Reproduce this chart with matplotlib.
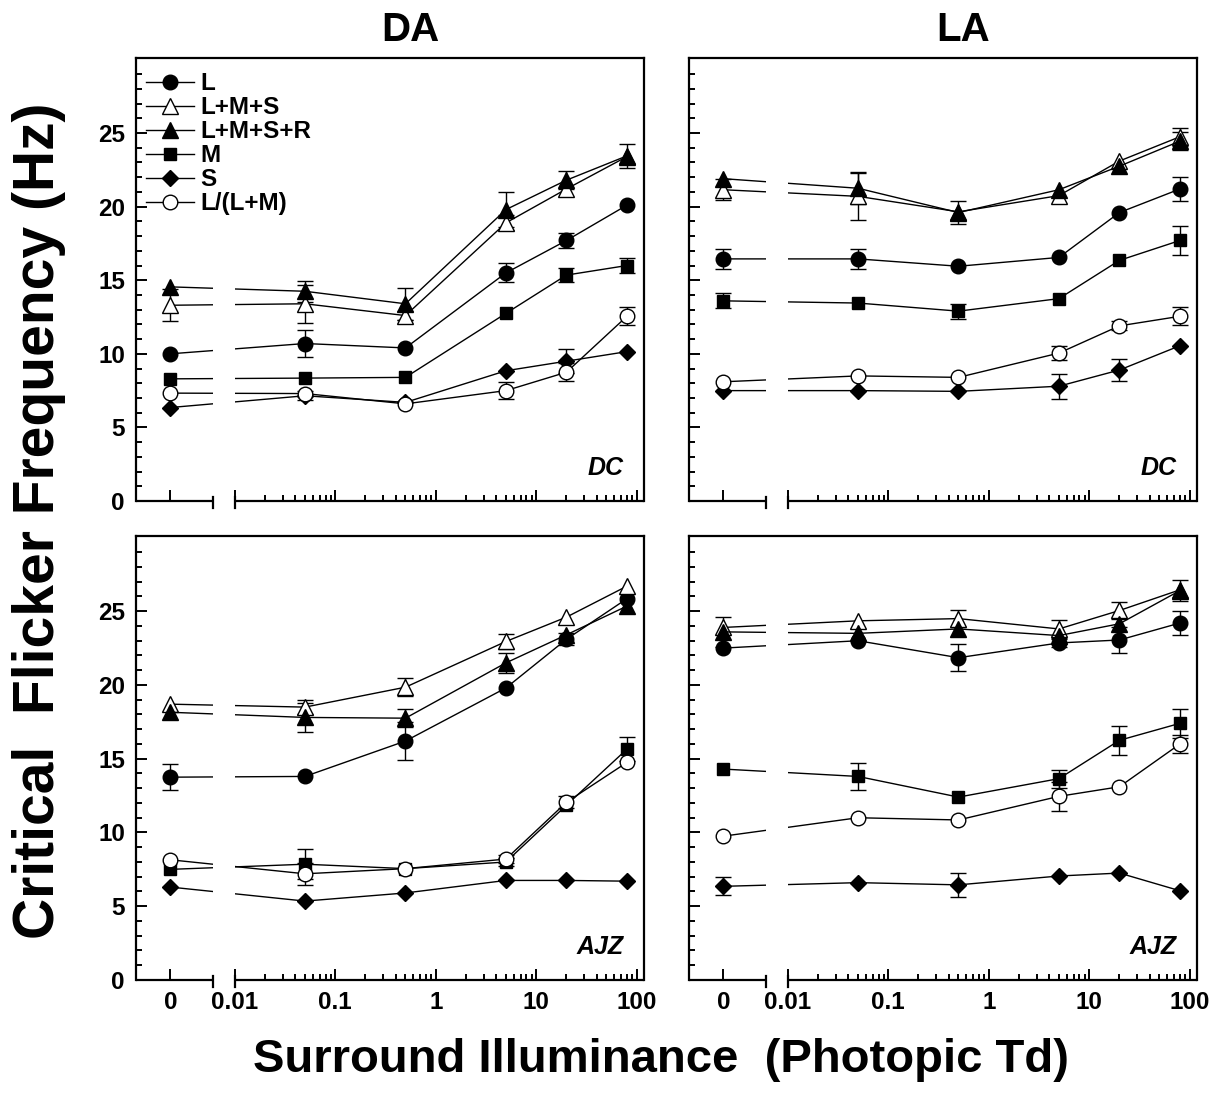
import numpy as np
import matplotlib
matplotlib.use("Agg")
import matplotlib.pyplot as plt
from matplotlib.ticker import FixedLocator, FixedFormatter, NullFormatter

plt.rcParams["font.family"] = ["Liberation Sans", "DejaVu Sans"]
plt.rcParams["font.weight"] = "bold"

# surround illuminance (photopic Td); 0 is drawn on the broken part of the axis
x = [0, 0.05, 0.5, 5, 20, 80]
labels = ["L", "L+M+S", "L+M+S+R", "M", "S", "L/(L+M)"]

# DA, observer DC
da_dc_L = [10.0, 10.7, 10.4, 15.5, 17.7, 20.1]
da_dc_LMS = [13.3, 13.4, 12.6, 18.9, 21.2, 23.4]
da_dc_LMSR = [14.55, 14.25, 13.4, 19.8, 21.8, 23.45]
da_dc_M = [8.3, 8.35, 8.4, 12.75, 15.35, 16.0]
da_dc_S = [6.35, 7.15, 6.7, 8.85, 9.5, 10.15]
da_dc_LLM = [7.33, 7.3, 6.6, 7.5, 8.75, 12.55]
da_dc_err = [
    [0, 0.9, 0, 0.65, 0.5, 0],
    [1.1, 1.3, 0.3, 0.5, 0, 0],
    [0, 0.7, 1.1, 1.2, 0.6, 0.8],
    [0, 0, 0, 0, 0.5, 0.5],
    [0, 0.3, 0, 0, 0.8, 0],
    [0, 0, 0, 0.6, 0.6, 0.6],
]

# LA, observer DC
la_dc_L = [16.45, 16.45, 15.95, 16.55, 19.6, 21.2]
la_dc_LMS = [21.15, 20.7, 19.65, 20.75, 23.1, 24.75]
la_dc_LMSR = [21.9, 21.25, 19.6, 21.15, 22.75, 24.45]
la_dc_M = [13.6, 13.45, 12.9, 13.75, 16.35, 17.7]
la_dc_S = [7.5, 7.5, 7.45, 7.8, 8.9, 10.55]
la_dc_LLM = [8.1, 8.5, 8.4, 10.05, 11.9, 12.55]
la_dc_err = [
    [0.7, 0.7, 0, 0, 0, 0.8],
    [0.7, 1.6, 0, 0, 0, 0.6],
    [0, 1.1, 0.8, 0, 0, 0.6],
    [0.5, 0, 0.5, 0, 0, 1.0],
    [0, 0, 0, 0.85, 0.75, 0],
    [0, 0, 0, 0.5, 0.3, 0.6],
]

# DA, observer AJZ
da_ajz_L = [13.75, 13.8, 16.2, 19.8, 23.1, 25.85]
da_ajz_LMS = [18.7, 18.5, 19.85, 22.95, 24.6, 26.7]
da_ajz_LMSR = [18.15, 17.8, 17.75, 21.5, 23.4, 25.35]
da_ajz_M = [7.5, 7.85, 7.55, 8.0, 11.85, 15.65]
da_ajz_S = [6.3, 5.35, 5.9, 6.75, 6.75, 6.7]
da_ajz_LLM = [8.15, 7.2, 7.55, 8.2, 12.05, 14.75]
da_ajz_err = [
    [0.9, 0, 1.3, 0, 0.4, 0],
    [0, 0.45, 0.6, 0.5, 0, 0],
    [0, 1.0, 0.6, 0.7, 0, 0],
    [0, 1.0, 0, 0.3, 0, 0.8],
    [0, 0, 0, 0, 0, 0],
    [0, 0.75, 0, 0.3, 0.4, 0],
]

# LA, observer AJZ
la_ajz_L = [22.5, 23.0, 21.85, 22.85, 23.05, 24.2]
la_ajz_LMS = [23.9, 24.35, 24.5, 23.8, 25.05, 26.45]
la_ajz_LMSR = [23.6, 23.5, 23.8, 23.35, 24.15, 26.4]
la_ajz_M = [14.3, 13.8, 12.4, 13.65, 16.25, 17.4]
la_ajz_S = [6.35, 6.6, 6.45, 7.05, 7.25, 6.05]
la_ajz_LLM = [9.75, 11.0, 10.85, 12.45, 13.1, 16.0]
la_ajz_err = [
    [0, 0, 0.9, 0.3, 0.9, 0.8],
    [0, 0, 0.6, 0.6, 0.6, 0],
    [1.0, 0, 0, 0, 0, 0.7],
    [0, 0.9, 0, 0.6, 1.0, 1.0],
    [0.6, 0, 0.8, 0, 0, 0],
    [0, 0, 0, 1.0, 0, 0.6],
]

# marker, face colour, size for each series
styles = [("o", "black", 10.5), ("^", "white", 11), ("^", "black", 11),
          ("s", "black", 9), ("D", "black", 8.5), ("o", "white", 10.5)]

# broken axis: 0 sits at ZERO_U decades, log scale from 0.01 upwards
ZERO_U = -2.642
BREAK_U = -2.219
SLOPE = (-2 - ZERO_U) / 0.01


def fwd(v):
    v = np.asarray(v, dtype=float)
    safe = np.where(v >= 0.01, v, 1.0)
    return np.where(v >= 0.01, np.log10(safe), ZERO_U + SLOPE * v)


def inv(u):
    u = np.asarray(u, dtype=float)
    safe = np.where(u >= -2, u, 0.0)
    return np.where(u >= -2, 10 ** safe, (u - ZERO_U) / SLOPE)


x_left = (-2.983 - ZERO_U) / SLOPE
x_right = 10 ** 2.073
x_break = (BREAK_U - ZERO_U) / SLOPE

fig = plt.figure(figsize=(12.3, 10.93), dpi=100)
W, H = 1230, 1093
boxes = [(136, 58, 508, 443), (689, 58, 508, 443),
         (136, 536, 508, 444), (689, 536, 508, 444)]
panels = [
    ([da_dc_L, da_dc_LMS, da_dc_LMSR, da_dc_M, da_dc_S, da_dc_LLM], da_dc_err, "DC"),
    ([la_dc_L, la_dc_LMS, la_dc_LMSR, la_dc_M, la_dc_S, la_dc_LLM], la_dc_err, "DC"),
    ([da_ajz_L, da_ajz_LMS, da_ajz_LMSR, da_ajz_M, da_ajz_S, da_ajz_LLM], da_ajz_err, "AJZ"),
    ([la_ajz_L, la_ajz_LMS, la_ajz_LMSR, la_ajz_M, la_ajz_S, la_ajz_LLM], la_ajz_err, "AJZ"),
]

xa = np.array(x, dtype=float)
for i, ((l, t, w, h), (ys, errs, name)) in enumerate(zip(boxes, panels)):
    ax = fig.add_axes([l / W, (H - t - h) / H, w / W, h / H])
    ax.set_xscale("function", functions=(fwd, inv))
    for y, e, lab, (mk, fc, ms) in zip(ys, errs, labels, styles):
        y = np.array(y)
        e = np.array(e, dtype=float)
        m = e > 0
        if m.any():
            ax.errorbar(xa[m], y[m], yerr=e[m], fmt="none", ecolor="black",
                        elinewidth=1, capsize=6, capthick=1, zorder=2)
        ax.plot(xa, y, marker=mk, mfc=fc, mec="black", mew=1, ms=ms,
                color="black", lw=1, label=lab, zorder=3)

    ax.set_xlim(x_left, x_right)
    ax.set_ylim(0, 30.1)

    # gap in the lines where the axis is broken
    ax.axvspan(x_break, 0.01, color="white", zorder=3.5, lw=0)
    for s in ax.spines.values():
        s.set_linewidth(1.6)
        s.set_zorder(4)
    ax.spines["bottom"].set_visible(False)
    ax.plot([x_left, x_break], [0, 0], color="black", lw=1.6, clip_on=False, zorder=5,
            solid_capstyle="butt")
    ax.plot([0.01, x_right], [0, 0], color="black", lw=1.6, clip_on=False, zorder=5,
            solid_capstyle="butt")
    for xb in (x_break, 0.01):
        ax.plot([xb, xb], [-0.5, 0.25], color="black", lw=1.6, clip_on=False, zorder=5)

    ax.xaxis.set_major_locator(FixedLocator([0, 0.01, 0.1, 1, 10, 100]))
    ax.xaxis.set_major_formatter(FixedFormatter(["0", "0.01", "0.1", "1", "10", "100"]))
    ax.xaxis.set_minor_locator(FixedLocator([m * 10.0 ** k for k in range(-2, 2) for m in range(2, 10)]))
    ax.xaxis.set_minor_formatter(NullFormatter())
    ax.yaxis.set_major_locator(FixedLocator([0, 5, 10, 15, 20, 25]))
    ax.yaxis.set_minor_locator(FixedLocator(list(range(1, 30))))
    ax.xaxis.set_zorder(5)
    ax.yaxis.set_zorder(5)
    ax.tick_params(which="both", direction="in", top=False, right=False, width=1.4,
                   labelsize=17.5, pad=8)
    ax.tick_params(which="major", length=8)
    ax.tick_params(which="minor", length=4.5)
    if i % 2 == 1:
        ax.tick_params(labelleft=False)
    if i < 2:
        ax.tick_params(labelbottom=False)
        ax.set_title(["DA", "LA"][i], fontsize=29, fontweight="bold", pad=12, x=0.54)

    ax.text(0.959, 0.075, name, transform=ax.transAxes, ha="right", va="center",
            fontsize=18, fontweight="bold", style="italic")

    if i == 0:
        ax.legend(loc="upper left", bbox_to_anchor=(0.0, 0.99), frameon=False,
                  fontsize=17.5, handlelength=2.0, handletextpad=0.25,
                  labelspacing=0.04, borderaxespad=0.2, borderpad=0.2)

fig.text(0.032, 0.524, "Critical  Flicker Frequency (Hz)", rotation=90,
         ha="center", va="center", fontsize=41, fontweight="bold")
fig.text(0.537, 0.030, "Surround Illuminance  (Photopic Td)",
         ha="center", va="center", fontsize=34, fontweight="bold")

fig.savefig("out.png", dpi=100, facecolor="white")
